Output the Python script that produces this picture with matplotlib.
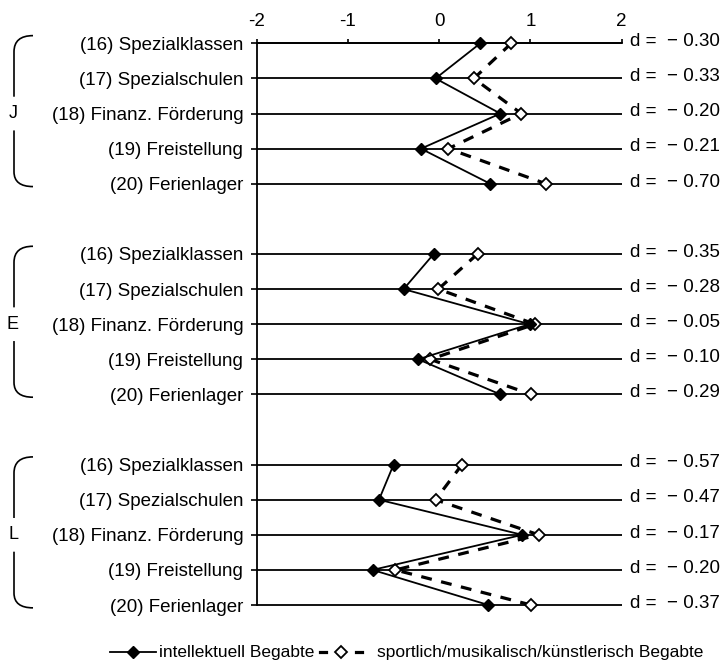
import matplotlib
matplotlib.use("Agg")
import matplotlib.pyplot as plt
from matplotlib import transforms
from matplotlib.path import Path
from matplotlib.patches import PathPatch

plt.rcParams['font.family'] = ['Liberation Sans', 'DejaVu Sans']

# Daten
massnahmen = ["(16) Spezialklassen", "(17) Spezialschulen", "(18) Finanz. Förderung",
              "(19) Freistellung", "(20) Ferienlager"]
gruppen = ["J", "E", "L"]

intell_J = [0.45, -0.04, 0.67, -0.20, 0.56]
sport_J = [0.79, 0.38, 0.90, 0.10, 1.17]
d_J = [-0.30, -0.33, -0.20, -0.21, -0.70]

intell_E = [-0.06, -0.39, 0.99, -0.23, 0.67]
sport_E = [0.42, -0.01, 1.05, -0.10, 1.01]
d_E = [-0.35, -0.28, -0.05, -0.10, -0.29]

intell_L = [-0.50, -0.66, 0.91, -0.73, 0.54]
sport_L = [0.25, -0.04, 1.09, -0.48, 1.01]
d_L = [-0.57, -0.47, -0.17, -0.20, -0.37]

x_ticks = [-2, -1, 0, 1, 2]
x_labels = ["-2", "-1", "0", "1", "2"]

intell = [intell_J, intell_E, intell_L]
sport = [sport_J, sport_E, sport_L]
d_werte = [d_J, d_E, d_L]

fig = plt.figure(figsize=(7.24, 6.63), dpi=100)

# overlay in pixel coords for brackets / legend
ov = fig.add_axes([0, 0, 1, 1])
ov.set_xlim(0, 724)
ov.set_ylim(663, 0)
ov.axis('off')

ax = fig.add_axes([256.7 / 724, 1 - 622.6 / 663, 365 / 724, 596.8 / 663])
ax.patch.set_visible(False)
ax.set_xlim(-2, 2)
ax.set_ylim(16.5, -0.5)

alle_y = []
for g in range(len(gruppen)):
    ys = [g * 6 + i for i in range(len(massnahmen))]
    alle_y += ys
    ax.hlines(ys, -2, 2, color='black', lw=1.3, zorder=1)
    ax.plot(sport[g], ys, color='black', lw=2.3, dashes=(3.4, 3.0),
            marker='D', ms=6.3, mfc='white', mec='black', mew=1.3,
            zorder=3, clip_on=False)
    ax.plot(intell[g], ys, color='black', lw=1.3, marker='D', ms=6.3,
            mfc='black', mec='black', zorder=4, clip_on=False)
    for y, d in zip(ys, d_werte[g]):
        ax.text(2.09, y - 0.05, f"d =  \u2212 {abs(d):.2f}", fontsize=13.5,
                va='center', ha='left', clip_on=False)

ax.set_yticks(alle_y)
ax.set_yticklabels(massnahmen * len(gruppen))
ax.tick_params(axis='y', length=4.3, width=1.2, pad=5.4, labelsize=13.5)

ax.xaxis.tick_top()
ax.set_xticks(x_ticks)
ax.set_xticklabels(x_labels)
ax.tick_params(axis='x', length=3, width=1.2, pad=6.5, labelsize=13.5)

ax.spines['top'].set_position(('data', 0))
ax.spines['top'].set_linewidth(1.3)
ax.spines['left'].set_bounds(0, 16)
ax.spines['left'].set_linewidth(1.3)
ax.spines['right'].set_visible(False)
ax.spines['bottom'].set_visible(False)

# Klammern mit Buchstaben
mix = transforms.blended_transform_factory(ov.transData, ax.transData)
for g, name in enumerate(gruppen):
    mid = g * 6 + 2
    top = mid - 2.22
    bot = mid + 2.08
    oben = Path([(33, top), (14, top), (14, top + 0.46), (14, mid - 0.48)],
                [Path.MOVETO, Path.CURVE3, Path.CURVE3, Path.LINETO])
    unten = Path([(14, mid + 0.48), (14, bot - 0.42), (14, bot), (33, bot)],
                 [Path.MOVETO, Path.LINETO, Path.CURVE3, Path.CURVE3])
    for p in (oben, unten):
        ov.add_patch(PathPatch(p, fill=False, lw=1.2, color='black',
                               transform=mix, clip_on=False))
    ov.text(13, mid, name, transform=mix, ha='center', va='center',
            fontsize=13)

# Legende
ly = 652
ov.plot([110, 156], [ly, ly], color='black', lw=1.3)
ov.plot([133], [ly], marker='D', ms=6.3, mfc='black', mec='black')
ov.text(159, ly, "intellektuell Begabte", fontsize=12.5, va='center', ha='left')
ov.plot([320, 326], [ly, ly], color='black', lw=2.3)
ov.plot([356, 362], [ly, ly], color='black', lw=2.3)
ov.plot([341], [ly], marker='D', ms=6.3, mfc='white', mec='black', mew=1.3)
ov.text(377, ly, "sportlich/musikalisch/künstlerisch Begabte", fontsize=12.5,
        va='center', ha='left')

fig.savefig("out.png", dpi=100)
